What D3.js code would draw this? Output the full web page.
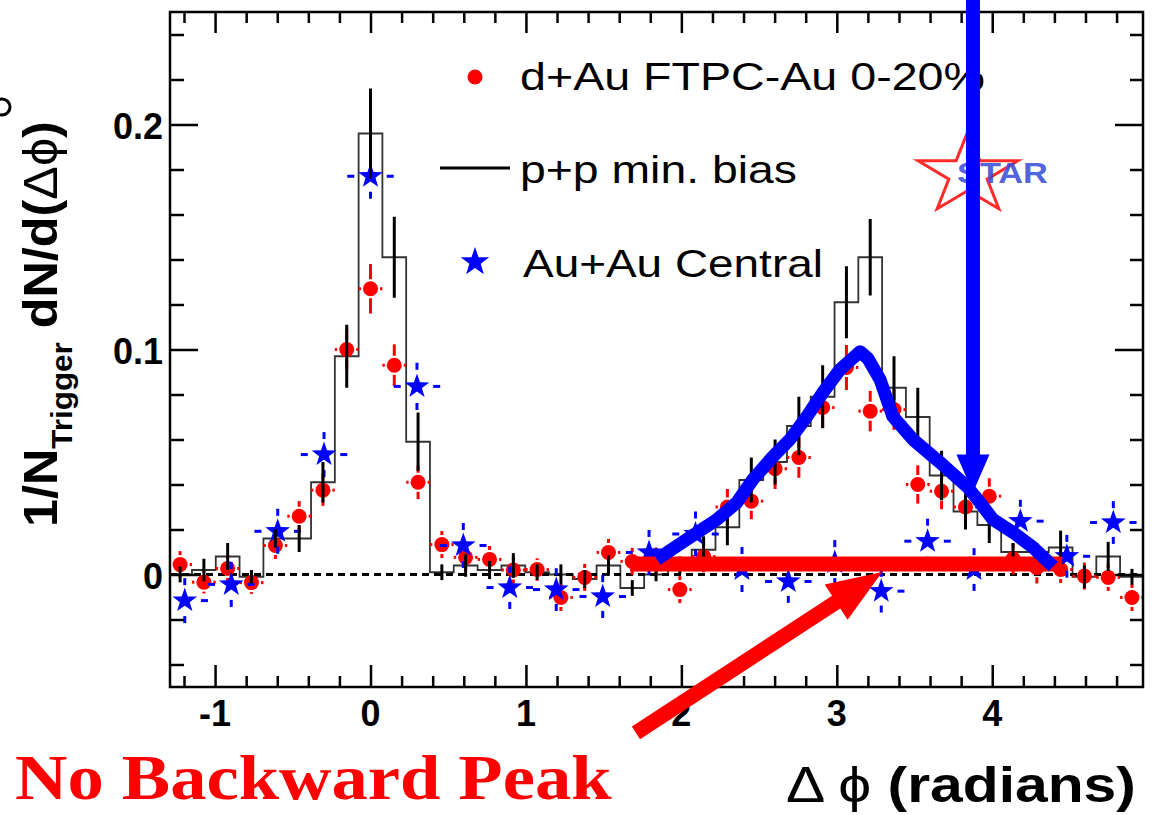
<!DOCTYPE html>
<html><head><meta charset="utf-8">
<script src="https://cdn.jsdelivr.net/npm/d3@7"></script>
<style>html,body{margin:0;padding:0;background:#fff}svg{display:block}</style>
</head><body>
<svg id="c" width="1153" height="815"></svg>
<script>
// ---------------- data ----------------
const binCenters = [-1.225,-1.072,-0.919,-0.766,-0.612,-0.459,-0.306,-0.153,0,0.153,0.306,0.459,0.612,0.766,0.919,1.072,1.225,1.378,1.531,1.684,1.837,1.990,2.143,2.296,2.450,2.603,2.756,2.909,3.062,3.215,3.368,3.521,3.674,3.828,3.981,4.134,4.287,4.440,4.593,4.746,4.899];
const ppValues = [0.000,0.002,0.008,-0.001,0.016,0.016,0.041,0.097,0.196,0.141,0.059,0.001,0.004,0.002,0.004,0.001,0.000,-0.002,0.004,-0.006,0.000,0.004,0.011,0.021,0.042,0.050,0.066,0.079,0.121,0.141,0.083,0.070,0.044,0.028,0.022,0.010,0.010,0.012,-0.001,0.008,-0.001];
const ppErrors = [0.0035,0.005,0.006,0.003,0.004,0.006,0.009,0.014,0.02,0.018,0.013,0.0035,0.005,0.004,0.0055,0.0035,0.0045,0.004,0.0045,0.0035,0.003,0.004,0.006,0.008,0.01,0.01,0.013,0.014,0.016,0.017,0.014,0.013,0.011,0.008,0.008,0.004,0.004,0.0075,0.005,0.0065,0.0035];
const dAuValues = [0.0044,-0.0034,0.0027,-0.0036,0.0129,0.0259,0.0375,0.100,0.127,0.093,0.041,0.0133,0.0076,0.0067,0.002,0.0022,-0.0102,-0.0013,0.0098,0.0058,0.006,-0.0067,0.008,0.030,0.0326,0.047,0.052,0.0742,0.092,0.0726,0.0733,0.040,0.037,0.030,0.0348,0.007,0.003,0.0022,-0.0007,-0.0013,-0.0102];
const dAuErrors = [0.006,0.005,0.006,0.005,0.006,0.0067,0.007,0.009,0.011,0.0093,0.0075,0.006,0.006,0.006,0.006,0.005,0.006,0.006,0.006,0.006,0.006,0.006,0.007,0.008,0.008,0.009,0.009,0.009,0.01,0.009,0.009,0.0085,0.008,0.008,0.008,0.007,0.007,0.006,0.006,0.006,0.006];
const auCenters = [-1.195,-0.896,-0.597,-0.299,0,0.299,0.597,0.896,1.195,1.494,1.792,2.091,2.390,2.688,2.987,3.286,3.584,3.883,4.181,4.480,4.779];
const auValues = [-0.0116,-0.0044,0.0192,0.0533,0.177,0.0836,0.0129,-0.0058,-0.0067,-0.0098,0.0098,0.018,0.0022,-0.0031,0.0053,-0.0074,0.0148,0.0022,0.0237,0.0081,0.0231];
const auErrors = [0.01,0.01,0.01,0.01,0.01,0.0105,0.01,0.0095,0.0095,0.0095,0.01,0.01,0.01,0.0095,0.01,0.0095,0.01,0.0095,0.0095,0.0095,0.0095];
const xTickLabels = ["-1","0","1","2","3","4"];
const xMajorTicks = [-1,0,1,2,3,4];
const yTickLabels = ["0","0.1","0.2"];
const yMajorTicks = [0,0.1,0.2];
const legendLabels = ["d+Au FTPC-Au 0-20%","p+p min. bias","Au+Au Central"];
// hand-drawn annotations (data coordinates)
const awayCurveX = [1.842,2.035,2.228,2.357,2.460,2.589,2.698,2.807,2.911,3.020,3.10,3.15,3.20,3.278,3.361,3.490,3.664,3.838,3.921,4.005,4.134,4.263,4.392];
const awayCurveY = [0.0067,0.0156,0.0244,0.032,0.0422,0.0524,0.06,0.0702,0.0809,0.0911,0.096,0.099,0.096,0.0867,0.0702,0.06,0.0498,0.0391,0.032,0.0244,0.0187,0.012,0.0036];
const flatLineX = [1.670,4.450];
const flatLineY = 0.0047;
const redArrowX = [1.708,3.292];
const redArrowY = [-0.0704,0.0011];
const blueArrowX = 3.876;
const blueArrowY = [0.256,0.0364];

// ---------------- setup ----------------
const svg = d3.select("#c");
const L=170,R=1143,T=12,B=687;
const x = d3.scaleLinear().domain([-1.29,4.97]).range([L,R]);
const y = d3.scaleLinear().domain([-0.05,0.25]).range([B,T]);
const SANS = "'Liberation Sans', Arial, Helvetica, sans-serif";
const PHI = "\u03d5";

svg.append("defs").append("clipPath").attr("id","clip")
  .append("rect").attr("x",L).attr("y",T).attr("width",R-L).attr("height",B-T);
const plot = svg.append("g").attr("clip-path","url(#clip)");

// histogram edges from centres
const edges = binCenters.map((c,i)=>{
  const prev = i>0 ? binCenters[i-1] : c-(binCenters[1]-binCenters[0]);
  return (prev+c)/2;
});
edges.push(binCenters[binCenters.length-1] + (binCenters[1]-binCenters[0])/2);
let hp = "";
ppValues.forEach((v,i)=>{
  hp += (i===0?"M":"L") + x(edges[i]) + "," + y(v) + "L" + x(edges[i+1]) + "," + y(v);
});
plot.append("path").attr("d",hp).attr("fill","none").attr("stroke","#333").attr("stroke-width",1.8);

// zero line
plot.append("line").attr("x1",L).attr("x2",R).attr("y1",y(0)).attr("y2",y(0))
  .attr("stroke","#000").attr("stroke-width",3).attr("stroke-dasharray","7,5");

// d+Au red points
const rr = 7.5;
const red = plot.append("g");
dAuValues.forEach((v,i)=>{
  const cx = x(binCenters[i]), cy = y(v);
  const ey = y(v - dAuErrors[i]) - cy;
  const hl = x(edges[i]), hr = x(edges[i+1]);
  const segs = [];
  if (ey > rr+2) { segs.push([cx,cy-ey,cx,cy-rr-2]); segs.push([cx,cy+rr+2,cx,cy+ey]); }
  segs.push([hl,cy,cx-rr-2,cy]); segs.push([cx+rr+2,cy,hr,cy]);
  segs.forEach(s=>red.append("line").attr("x1",s[0]).attr("y1",s[1]).attr("x2",s[2]).attr("y2",s[3])
    .attr("stroke","#ff0000").attr("stroke-width",3));
  red.append("circle").attr("cx",cx).attr("cy",cy).attr("r",rr).attr("fill","#ff0000");
});

// star path helper
function starPath(Ro, Ri, sx){
  sx = sx||1; let p="";
  for(let k=0;k<10;k++){
    const a = -Math.PI/2 + k*Math.PI/5;
    const rad = k%2===0 ? Ro : Ri;
    p += (k===0?"M":"L") + (Math.cos(a)*rad*sx).toFixed(2) + "," + (Math.sin(a)*rad).toFixed(2);
  }
  return p+"Z";
}

// Au+Au blue stars
const blue = plot.append("g");
const half = (auCenters[1]-auCenters[0])/2;
auValues.forEach((v,i)=>{
  const cx = x(auCenters[i]), cy = y(v);
  const ey = y(v - auErrors[i]) - cy;
  const ex = x(auCenters[i]+half) - cx;
  const d = 7;
  [[cx,cy-ey,cx,cy-ey+d],[cx,cy+ey-d,cx,cy+ey],[cx-ex,cy,cx-ex+d,cy],[cx+ex-d,cy,cx+ex,cy]].forEach(s=>
    blue.append("line").attr("x1",s[0]).attr("y1",s[1]).attr("x2",s[2]).attr("y2",s[3])
      .attr("stroke","#0000ff").attr("stroke-width",3));
  blue.append("path").attr("d",starPath(13,5.2)).attr("transform",`translate(${cx},${cy})`).attr("fill","#0000ff");
});

// p+p error bars
const ppe = plot.append("g");
ppValues.forEach((v,i)=>{
  ppe.append("line").attr("x1",x(binCenters[i])).attr("x2",x(binCenters[i]))
    .attr("y1",y(v+ppErrors[i])).attr("y2",y(v-ppErrors[i]))
    .attr("stroke","#000").attr("stroke-width",3);
});

// ---------------- frame & axes ----------------
const xMinor = d3.range(-1.2,4.81,0.2).map(v=>+v.toFixed(2)).filter(v=>Math.abs(v-Math.round(v))>1e-6);
const yMinor = d3.range(-0.04,0.241,0.02).map(v=>+v.toFixed(2)).filter(v=>!yMajorTicks.some(t=>Math.abs(t-v)<1e-6));
function ax(gen, tr, vals, size){
  const g = svg.append("g").attr("transform",tr)
    .call(gen.tickValues(vals).tickSize(size).tickFormat(""));
  g.select(".domain").remove();
  g.selectAll(".tick line").attr("stroke","#000").attr("stroke-width",2.5);
}
ax(d3.axisBottom(x),`translate(0,${B})`,xMajorTicks,-22);
ax(d3.axisBottom(x),`translate(0,${B})`,xMinor,-11);
ax(d3.axisTop(x),`translate(0,${T})`,xMajorTicks,-21);
ax(d3.axisTop(x),`translate(0,${T})`,xMinor,-11);
ax(d3.axisLeft(y),`translate(${L},0)`,yMajorTicks,-28);
ax(d3.axisLeft(y),`translate(${L},0)`,yMinor,-14);
ax(d3.axisRight(y),`translate(${R},0)`,yMajorTicks,-28);
ax(d3.axisRight(y),`translate(${R},0)`,yMinor,-13);
svg.append("rect").attr("x",L).attr("y",T).attr("width",R-L).attr("height",B-T)
  .attr("fill","none").attr("stroke","#000").attr("stroke-width",2.5);

// tick labels
xMajorTicks.forEach((t,i)=>{
  svg.append("text").attr("x",x(t)).attr("y",726).attr("text-anchor","middle")
    .attr("font-family",SANS).attr("font-weight","bold").attr("font-size",36).text(xTickLabels[i]);
});
yMajorTicks.forEach((t,i)=>{
  svg.append("text").attr("x",163).attr("y",y(t)+14).attr("text-anchor","end")
    .attr("font-family",SANS).attr("font-weight","bold").attr("font-size",36).text(yTickLabels[i]);
});

// fit helpers
function fitH(build, x0, x1, base){
  const g = svg.append("g");
  const t = build(g);
  const bb = t.node().getBBox();
  const s = (x1-x0)/bb.width;
  g.attr("transform",`translate(${x0 - bb.x*s},${base}) scale(${s},1)`);
  return g;
}

// axis titles
fitH(g=>{
  const t = g.append("text").attr("font-family",SANS).attr("font-size",50).attr("fill","#000");
  t.append("tspan").text("\u0394 " + PHI + " ");
  t.append("tspan").attr("font-weight","bold").text("(radians)");
  return t;
}, 786, 1136, 802);

(function(){
  const g = svg.append("g");
  const inner = g.append("g");
  const t = inner.append("text").attr("font-family",SANS).attr("font-weight","bold").attr("font-size",48).attr("fill","#000");
  t.append("tspan").text("1/N");
  t.append("tspan").attr("font-size",30).attr("dy",15).text("Trigger");
  t.append("tspan").attr("dy",-15).text(" dN/d(");
  t.append("tspan").attr("font-weight","normal").text("\u0394" + PHI);
  t.append("tspan").text(")");
  const bb = t.node().getBBox();
  const len = 527-121;
  const s = len/bb.width;
  inner.attr("transform",`scale(${s},1) translate(${-bb.x},0)`);
  g.attr("transform",`translate(57,527) rotate(-90)`);
})();

// clipped character at top-left edge
svg.append("circle").attr("cx",2).attr("cy",107).attr("r",8).attr("fill","none").attr("stroke","#000").attr("stroke-width",3);

// ---------------- legend ----------------
svg.append("circle").attr("cx",475).attr("cy",77).attr("r",7.5).attr("fill","#ff0000");
svg.append("line").attr("x1",440).attr("x2",510).attr("y1",168).attr("y2",168).attr("stroke","#000").attr("stroke-width",3);
svg.append("path").attr("d",starPath(15,6)).attr("transform","translate(475,262)").attr("fill","#0000ff");
const legPos = [[520,985,90],[520,797,183],[523,823,277]];
legendLabels.forEach((lab,i)=>{
  fitH(g=>g.append("text").attr("font-family",SANS).attr("font-size",39).attr("fill","#000").text(lab),
    legPos[i][0], legPos[i][1], legPos[i][2]);
});

// ---------------- STAR logo ----------------
svg.append("path").attr("d",starPath(43,16.5,1.22)).attr("transform","translate(968,174)")
  .attr("fill","none").attr("stroke","#ff2a2a").attr("stroke-width",3).attr("stroke-linejoin","miter");
fitH(g=>g.append("text").attr("font-family",SANS).attr("font-weight","bold").attr("font-size",29)
  .attr("fill","#3b4fd6").attr("fill-opacity",0.9).text("STAR"), 957, 1048, 183);

// ---------------- annotations ----------------
svg.append("line").attr("x1",x(flatLineX[0])).attr("x2",x(flatLineX[1]))
  .attr("y1",y(flatLineY)).attr("y2",y(flatLineY)).attr("stroke","#ff0000").attr("stroke-width",15);

svg.append("path").datum(awayCurveX.map((v,i)=>[v,awayCurveY[i]]))
  .attr("d",d3.line().x(d=>x(d[0])).y(d=>y(d[1])))
  .attr("fill","none").attr("stroke","#0000ff").attr("stroke-width",13)
  .attr("stroke-linejoin","round").attr("stroke-linecap","butt");

function arrow(x0,y0,x1,y1,sw,hl,hw,color){
  const dx=x1-x0, dy=y1-y0, len=Math.hypot(dx,dy);
  const ux=dx/len, uy=dy/len, nx=-uy, ny=ux;
  const bx=x1-ux*hl, by=y1-uy*hl;
  const pts=[[x0+nx*sw/2,y0+ny*sw/2],[bx+nx*sw/2,by+ny*sw/2],[bx+nx*hw,by+ny*hw],[x1,y1],
    [bx-nx*hw,by-ny*hw],[bx-nx*sw/2,by-ny*sw/2],[x0-nx*sw/2,y0-ny*sw/2]];
  svg.append("polygon").attr("points",pts.map(p=>p.join(",")).join(" ")).attr("fill",color);
}
arrow(x(redArrowX[0]),y(redArrowY[0]),x(redArrowX[1]),y(redArrowY[1]),15,55,21,"#ff0000");
arrow(x(blueArrowX),y(blueArrowY[0]),x(blueArrowX),y(blueArrowY[1]),14,38,16.5,"#0000ff");

// ---------------- caption ----------------
fitH(g=>g.append("text").attr("font-family","'Liberation Serif','Times New Roman',serif")
  .attr("font-weight","bold").attr("font-size",64).attr("fill","#ff0000").text("No Backward Peak"), 15, 612, 799);
</script>
</body></html>
